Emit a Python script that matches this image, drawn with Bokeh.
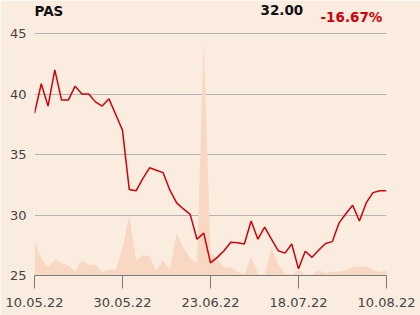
from bokeh.plotting import figure
from bokeh.models import Range1d, LinearAxis, FixedTicker, Label
from bokeh.embed import file_html
from bokeh.resources import INLINE

symbol = "PAS"
last_price = "32.00"
change = "-16.67%"

price = [38.4, 40.85, 39.0, 42.0, 39.5, 39.5, 40.65, 40.0, 40.0, 39.35,
         39.0, 39.6, 38.3, 37.0, 32.1, 32.0, 33.0, 33.9, 33.7, 33.5,
         32.05, 31.0, 30.5, 30.05, 28.0, 28.5, 26.05, 26.5, 27.05, 27.75,
         27.7, 27.6, 29.5, 28.0, 29.0, 28.0, 27.05, 26.85, 27.6, 25.55,
         27.0, 26.5, 27.1, 27.65, 27.8, 29.35, 30.1, 30.8, 29.5, 31.0,
         31.85, 32.0, 32.0]

volume = [14.5, 6.9, 3.4, 6.5, 5.1, 4.1, 1.8, 6.2, 4.3, 4.3,
          1.5, 2.6, 2.3, 11.7, 24.8, 6.2, 8.5, 7.9, 2.1, 6.2,
          2.3, 17.5, 11.7, 6.9, 5.1, 97.0, 9.6, 6.9, 3.4, 3.2,
          1.8, 0.4, 7.9, 0.7, 0.4, 11.7, 4.8, 0.7, 0.4, 2.3,
          0.4, 0.4, 2.1, 1.0, 1.5, 1.5, 2.3, 3.4, 3.7, 3.7,
          2.3, 1.2, 2.3]

tick_idx = [0, 13, 26, 39, 52]
tick_labels = ["10.05.22", "30.05.22", "23.06.22", "18.07.22", "10.08.22"]
y_ticks = [25, 30, 35, 40, 45]

idx = list(range(len(price)))

# frame spans full top; headroom above 45 holds the header texts
TOP = 25 + 275 / 12.1
BG = "#fbece0"
p = figure(width=420, height=315, output_backend="svg", toolbar_location=None,
           x_range=Range1d(0, len(price) - 1), y_range=Range1d(25, TOP),
           min_border_left=34, min_border_right=34, min_border_top=0,
           min_border_bottom=40, background_fill_color=BG,
           border_fill_color=BG, outline_line_color=None,
           x_axis_location=None, y_axis_location=None)

p.extra_y_ranges = {"vol": Range1d(0, 100 * 275 / 242)}
p.varea(x=idx, y1=[0] * len(volume), y2=volume, y_range_name="vol",
        fill_color="#f8d8c2", fill_alpha=1.0)
p.line(x=idx, y=price, line_color="#d0000a", line_width=1.5)

yaxis = LinearAxis(ticker=FixedTicker(ticks=y_ticks))
yaxis.axis_line_color = None
yaxis.major_tick_line_color = None
yaxis.minor_tick_line_color = None
yaxis.major_label_text_font = "DejaVu Sans"
yaxis.major_label_text_font_size = "13px"
yaxis.major_label_text_color = "#444444"
yaxis.major_label_standoff = 8
yaxis.major_tick_out = 0
yaxis.major_tick_in = 0
p.add_layout(yaxis, "left")

xaxis = LinearAxis(ticker=FixedTicker(ticks=tick_idx))
xaxis.major_label_overrides = {i: l for i, l in zip(tick_idx, tick_labels)}
xaxis.axis_line_color = "#7a7a7a"
xaxis.major_tick_line_color = "#7a7a7a"
xaxis.minor_tick_line_color = None
xaxis.major_tick_out = 13
xaxis.major_tick_in = 0
xaxis.major_label_text_font = "DejaVu Sans"
xaxis.major_label_text_font_size = "13px"
xaxis.major_label_text_color = "#444444"
xaxis.major_label_standoff = 9
p.add_layout(xaxis, "below")

p.xgrid.visible = False
p.ygrid.ticker = FixedTicker(ticks=y_ticks)
p.ygrid.grid_line_color = "#b4b4b4"

for txt, x, y, col, size in [(symbol, 0, 264.5, "#111111", "13.5px"),
                             (last_price, 226, 266, "#111111", "13.5px"),
                             (change, 286, 259, "#d0000a", "13.5px")]:
    p.add_layout(Label(x=x, y=y, x_units="screen", y_units="screen", text=txt,
                       text_font="DejaVu Sans", text_font_style="bold",
                       text_font_size=size, text_color=col,
                       text_baseline="alphabetic"))

open("out.html", "w").write(file_html(p, INLINE))
